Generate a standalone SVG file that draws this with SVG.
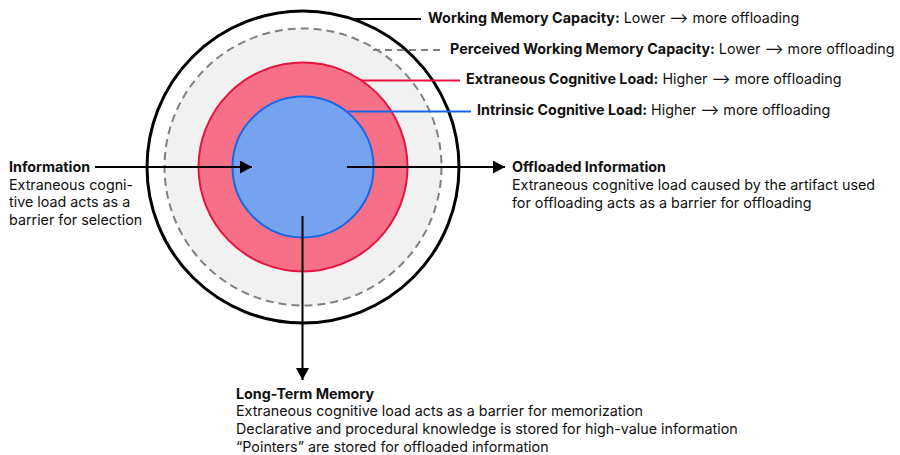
<svg xmlns="http://www.w3.org/2000/svg" width="900" height="455" viewBox="0 0 900 455">
<defs>
<marker id="ah" viewBox="0 0 12 13" refX="12" refY="6.5" markerWidth="12" markerHeight="13" markerUnits="userSpaceOnUse" orient="auto">
<path d="M0,0 L12,6.5 L0,13 Z" fill="#000"/>
</marker>
<style>
text{font-family:Inter,"Liberation Sans",sans-serif;font-size:14.3px;fill:#111}
.b{font-weight:700}
.conn{stroke:#000;stroke-width:2;fill:none}
</style>
</defs>
<rect width="900" height="455" fill="#fff"/>
<g id="working-memory">
<circle cx="303" cy="167" r="156" fill="#fff" stroke="#000" stroke-width="3"/>
</g>
<g id="perceived-working-memory">
<circle cx="303" cy="167" r="138.5" fill="#f1f1f1" stroke="#808080" stroke-width="2" stroke-dasharray="8 5"/>
</g>
<g id="extraneous-load">
<circle cx="303" cy="167" r="104.5" fill="#f67188" stroke="#e8123e" stroke-width="2"/>
</g>
<g id="intrinsic-load">
<circle cx="303" cy="167" r="70.5" fill="#76a3ef" stroke="#1766ea" stroke-width="2"/>
</g>
<g id="leaders">
<line x1="352" y1="19" x2="421" y2="19" stroke="#000" stroke-width="2"/>
<line x1="373" y1="50" x2="444" y2="50" stroke="#808080" stroke-width="2" stroke-dasharray="7 5"/>
<line x1="361" y1="80.5" x2="460" y2="80.5" stroke="#e8123e" stroke-width="2"/>
<line x1="348" y1="111.5" x2="471" y2="111.5" stroke="#1766ea" stroke-width="2"/>
</g>
<g id="labels">
<text x="428" y="22.5"><tspan class="b">Working Memory Capacity:</tspan> Lower ⟶ more offloading</text>
<text x="450" y="53.5"><tspan class="b">Perceived Working Memory Capacity:</tspan> Lower ⟶ more offloading</text>
<text x="466" y="84"><tspan class="b">Extraneous Cognitive Load:</tspan> Higher ⟶ more offloading</text>
<text x="477" y="115"><tspan class="b">Intrinsic Cognitive Load:</tspan> Higher ⟶ more offloading</text>
</g>
<g id="connectors">
<line class="conn" x1="95" y1="167" x2="252" y2="167" marker-end="url(#ah)"/>
<line class="conn" x1="347" y1="167" x2="505" y2="167" marker-end="url(#ah)"/>
<line class="conn" x1="302.5" y1="216" x2="302.5" y2="380" marker-end="url(#ah)"/>
</g>
<g id="information">
<text x="9" y="172"><tspan class="b">Information</tspan></text>
<text x="9" y="189.5">Extraneous cogni-</text>
<text x="9" y="207">tive load acts as a</text>
<text x="9" y="224.5">barrier for selection</text>
</g>
<g id="offloaded-information">
<text x="512" y="172"><tspan class="b">Offloaded Information</tspan></text>
<text x="512" y="190">Extraneous cognitive load caused by the artifact used</text>
<text x="512" y="208">for offloading acts as a barrier for offloading</text>
</g>
<g id="long-term-memory">
<text x="236" y="398.5"><tspan class="b">Long-Term Memory</tspan></text>
<text x="236" y="416">Extraneous cognitive load acts as a barrier for memorization</text>
<text x="236" y="434">Declarative and procedural knowledge is stored for high-value information</text>
<text x="236" y="451.5">“Pointers” are stored for offloaded information</text>
</g>
</svg>
